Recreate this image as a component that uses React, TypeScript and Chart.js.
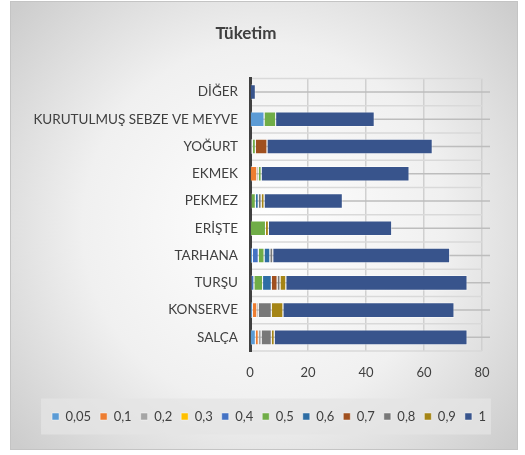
import React, { useEffect, useRef } from "react";
import { Chart, registerables } from "chart.js";

Chart.register(...registerables);

const categories = [
  "DİĞER",
  "KURUTULMUŞ SEBZE VE MEYVE",
  "YOĞURT",
  "EKMEK",
  "PEKMEZ",
  "ERİŞTE",
  "TARHANA",
  "TURŞU",
  "KONSERVE",
  "SALÇA",
];

const seriesNames = ["0,05", "0,1", "0,2", "0,3", "0,4", "0,5", "0,6", "0,7", "0,8", "0,9", "1"];

const s005 = [0, 5, 0, 0, 0, 0, 1, 0, 1, 2];
const s01 = [0, 0, 0, 2.5, 0, 0, 0, 0, 1.5, 1];
const s02 = [0, 0, 1, 0.5, 0.5, 0, 0, 0.5, 0.5, 1];
const s03 = [0, 0, 0, 0, 0, 0, 0, 0, 0, 0];
const s04 = [0, 0, 0, 0, 0, 0, 2, 1, 0, 0];
const s05 = [0, 4, 1, 1, 1.5, 5.5, 2, 3, 0, 0];
const s06 = [0, 0, 0, 0, 1, 0, 2, 3, 0, 0];
const s07 = [0, 0, 4, 0, 0, 0, 0, 2, 0, 0];
const s08 = [0, 0, 0, 0, 1, 0, 1, 1, 4.5, 3.5];
const s09 = [0, 0, 0, 0, 1, 1, 0, 2, 4, 1];
const s1 = [2, 34, 57, 51, 27, 42.5, 61, 62.5, 59, 66.5];

const seriesValues = [s005, s01, s02, s03, s04, s05, s06, s07, s08, s09, s1];

const seriesColors = [
  "#5B9BD5",
  "#ED7D31",
  "#A5A5A5",
  "#FFC000",
  "#4472C4",
  "#70AD47",
  "#2E6DA4",
  "#A0501F",
  "#787878",
  "#A58516",
  "#38548C",
];

const xTicks = [0, 20, 40, 60, 80];

const FONT = "Lato, 'Open Sans', sans-serif";
const TEXT = "#404040";
const LEGEND_SHIFT = 23;

const bgPlugin = {
  id: "bgPlugin",
  afterLayout(chart: any) {
    const lg = chart.legend;
    if (lg) {
      lg.left += LEGEND_SHIFT;
      lg.right += LEGEND_SHIFT;
    }
  },
  beforeDraw(chart: any) {
    const { ctx, width, height } = chart;
    ctx.save();
    ctx.fillStyle = "#ffffff";
    ctx.fillRect(0, 0, width, height);
    const x0 = 10.5, y0 = 1.5, x1 = width - 7.5, y1 = height - 5.5;
    const cx = (x0 + x1) / 2, cy = (y0 + y1) / 2;
    const g = ctx.createRadialGradient(cx, cy, 0, cx, cy, 330);
    g.addColorStop(0, "#ffffff");
    g.addColorStop(0.55, "#f0f0f0");
    g.addColorStop(1, "#cdcdcd");
    ctx.fillStyle = g;
    ctx.fillRect(x0, y0, x1 - x0, y1 - y0);
    ctx.strokeStyle = "#c4c4c4";
    ctx.lineWidth = 1;
    ctx.strokeRect(x0, y0, x1 - x0, y1 - y0);
    const lg = chart.legend;
    if (lg && lg.legendHitBoxes && lg.legendHitBoxes.length) {
      const hb = lg.legendHitBoxes;
      let l = Infinity, r = -Infinity, t = Infinity, b = -Infinity;
      hb.forEach((h: any) => {
        l = Math.min(l, h.left);
        r = Math.max(r, h.left + h.width);
        t = Math.min(t, h.top);
        b = Math.max(b, h.top + h.height);
      });
      const mid = (t + b) / 2;
      ctx.fillStyle = "rgba(228,228,228,0.75)";
      ctx.fillRect(l - 11, mid - 18, r - l + 16, 36);
    }
    ctx.restore();
  },
};

const hGridPlugin = {
  id: "hGridPlugin",
  beforeDatasetsDraw(chart: any) {
    const { ctx, chartArea } = chart;
    const y = chart.scales.y;
    const n = categories.length;
    const step = y.getPixelForValue(1) - y.getPixelForValue(0);
    ctx.save();
    ctx.lineWidth = 1.5;
    for (let i = 0; i < n; i++) {
      const yc = y.getPixelForValue(i);
      ctx.strokeStyle = "#d9d9d9";
      ctx.beginPath();
      ctx.moveTo(chartArea.left + 2, yc - step / 2);
      ctx.lineTo(chartArea.right, yc - step / 2);
      ctx.stroke();
      if (i === n - 1) {
        ctx.beginPath();
        ctx.moveTo(chartArea.left + 2, yc + step / 2);
        ctx.lineTo(chartArea.right, yc + step / 2);
        ctx.stroke();
      }
      ctx.strokeStyle = "#bdbdbd";
      ctx.beginPath();
      ctx.moveTo(chartArea.left + 2, yc);
      ctx.lineTo(chartArea.right + 8, yc);
      ctx.stroke();
    }
    ctx.restore();
  },
};

export default function App() {
  const ref = useRef<HTMLCanvasElement | null>(null);
  useEffect(() => {
    if (!ref.current) return;
    const chart = new Chart(ref.current, {
      type: "bar",
      data: {
        labels: categories,
        datasets: seriesNames.map((name, i) => ({
          label: name,
          data: seriesValues[i],
          backgroundColor: seriesColors[i],
          borderColor: "rgba(255,255,255,0.45)",
          borderWidth: 1,
          barPercentage: 0.571,
          categoryPercentage: 1,
        })),
      },
      options: {
        indexAxis: "y",
        animation: false,
        responsive: false,
        maintainAspectRatio: false,
        layout: { padding: { left: 10, right: 43, top: 23, bottom: 22 } },
        plugins: {
          title: {
            display: true,
            text: "Tüketim",
            color: TEXT,
            font: { family: FONT, size: 17, weight: "bold" },
            padding: { top: 0, bottom: 35 },
          },
          legend: {
            position: "bottom",
            labels: {
              boxWidth: 7,
              boxHeight: 7,
              color: TEXT,
              padding: 9,
              font: { family: FONT, size: 13 },
            },
          },
          tooltip: { enabled: false },
        },
        scales: {
          x: {
            stacked: true,
            min: 0,
            max: 80,
            afterBuildTicks: (s: any) => {
              s.ticks = xTicks.map((v) => ({ value: v }));
            },
            afterFit: (s: any) => {
              s.height = 50;
            },
            grid: { color: "#d0d0d0", lineWidth: 1.5, drawTicks: false },
            border: { display: false },
            ticks: { color: TEXT, padding: 14, font: { family: FONT, size: 13 } },
          },
          y: {
            stacked: true,
            afterFit: (s: any) => {
              s.width = 240;
            },
            grid: { color: "rgba(0,0,0,0)", drawTicks: false },
            border: { display: true, color: "#404040", width: 3 },
            ticks: { color: TEXT, padding: 12, font: { family: FONT, size: 13.5 } },
          },
        },
      },
      plugins: [bgPlugin, hGridPlugin],
    });
    return () => chart.destroy();
  }, []);
  return (
    <div style={{ position: "fixed", left: 0, top: 0, width: 525, height: 455 }}>
      <canvas ref={ref} width={525} height={455} style={{ display: "block", width: 525, height: 455 }} />
    </div>
  );
}
